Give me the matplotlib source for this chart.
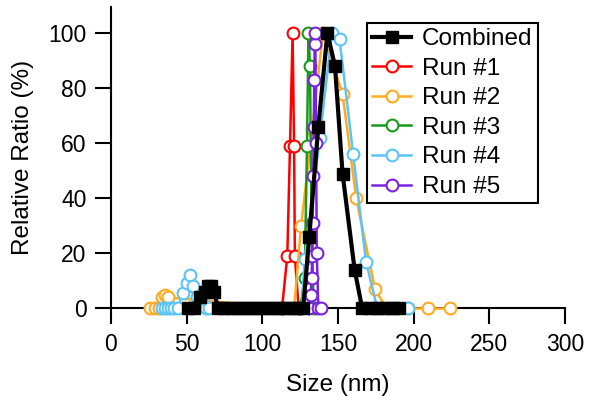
import matplotlib.pyplot as plt

plt.rcParams['font.family'] = ['Liberation Sans', 'DejaVu Sans']

# combined distribution
comb_x = [51, 55, 59, 62, 64, 66, 68, 71, 75, 79, 83, 87, 91, 95, 99, 103, 107, 111, 115,
          119, 123, 127, 131, 137, 143, 148, 153, 161, 166, 171, 176, 181, 186, 190]
comb_y = [0, 0, 4, 6, 8, 8, 6, 0, 0, 0, 0, 0, 0, 0, 0, 0, 0, 0, 0,
          0, 0, 0, 26, 66, 100, 88, 49, 14, 0, 0, 0, 0, 0, 0]

run1_x = [113, 116.5, 118.3, 120, 121, 121.5, 124]
run1_y = [0, 19, 59, 100, 59, 19, 0]

run2_x = [26, 29, 32, 34, 36, 38, 121, 125.6, 133, 140, 153, 162, 174.5, 182, 196, 209.5, 224]
run2_y = [0, 0, 0, 4, 5, 4, 0, 30, 65, 100, 78, 40, 7, 0, 0, 0, 0]

run3_x = [125, 128, 129.5, 130.5, 131.5, 132.5, 134]
run3_y = [0, 11, 59, 100, 88, 31, 0]

run4_x = [34, 36, 38, 40, 42, 44, 47.5, 50, 52, 54, 57, 60, 63, 65,
          126, 128, 138, 146, 151, 160, 168.5, 176, 186, 196]
run4_y = [0, 0, 0, 0, 0, 0, 5.6, 9.3, 12, 8, 4, 2, 0, 0,
          0, 18, 62, 100, 98, 56, 17, 0, 0, 0]

run5_x = [131, 132, 132.5, 133, 133.3, 133.6, 134, 134.3, 134.6, 135, 135.5, 136, 137, 139]
run5_y = [0, 5, 11, 19, 31, 48, 66, 83, 96, 100, 60, 20, 0, 0]

runs = [
    ("Run #1", run1_x, run1_y, "#ff0000"),
    ("Run #2", run2_x, run2_y, "#ffaa22"),
    ("Run #3", run3_x, run3_y, "#1a9a1a"),
    ("Run #4", run4_x, run4_y, "#5cc4f5"),
    ("Run #5", run5_x, run5_y, "#7a22e0"),
]

fig = plt.figure(figsize=(5.93, 4.20), dpi=100)
ax = fig.add_axes([0.187, 0.2655, 0.766, 0.718])

handles = []
for i, (name, xs, ys, col) in enumerate(runs):
    h, = ax.plot(xs, ys, color=col, lw=1.8, marker='o', ms=8.5, mfc='white',
                 mec=col, mew=1.5, label=name, clip_on=False, zorder=2 + i)
    handles.append(h)

hc, = ax.plot(comb_x, comb_y, color='black', lw=3, marker='s', ms=8, mfc='black',
              mec='black', label="Combined", clip_on=False, zorder=10)
handles.insert(0, hc)

ax.set_xlim(0, 300)
ax.set_ylim(0, 109.5)
ax.set_xticks([0, 50, 100, 150, 200, 250, 300])
ax.set_yticks([0, 20, 40, 60, 80, 100])
ax.spines['top'].set_visible(False)
ax.spines['right'].set_visible(False)
for s in ['left', 'bottom']:
    ax.spines[s].set_linewidth(1.5)
ax.tick_params(direction='out', length=11.5, width=1.5, labelsize=16.5, pad=6)
ax.set_xlabel("Size (nm)", fontsize=17.5, labelpad=13)
ax.set_ylabel("Relative Ratio (%)", fontsize=17.5, labelpad=10)

leg = ax.legend(handles=handles, loc='upper right', bbox_to_anchor=(0.94, 0.947),
                borderaxespad=0, fontsize=17.5, frameon=True, fancybox=False,
                edgecolor='black', framealpha=1, handlelength=1.6, handletextpad=0.45,
                labelspacing=0.31, borderpad=0.22)
leg.get_frame().set_linewidth(1.5)
leg.set_zorder(20)

fig.savefig("out.png", dpi=100)
